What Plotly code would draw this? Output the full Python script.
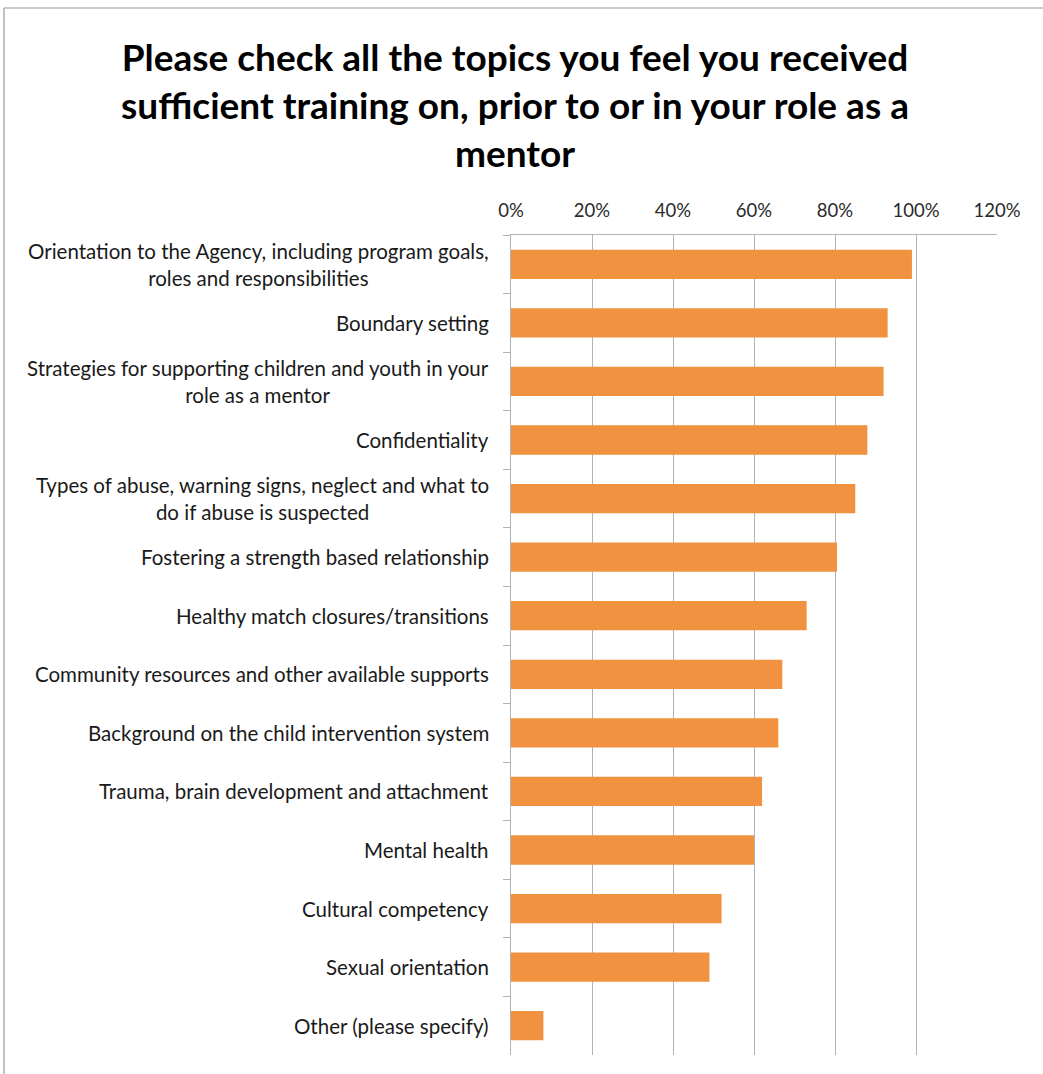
import plotly.graph_objects as go

categories = [
    "Orientation to the Agency, including program goals,<br>roles and responsibilities",
    "Boundary setting",
    "Strategies for supporting children and youth in your<br>role as a mentor",
    "Confidentiality",
    "Types of abuse, warning signs, neglect and what to<br>do if abuse is suspected",
    "Fostering a strength based relationship",
    "Healthy match closures/transitions",
    "Community resources and other available supports",
    "Background on the child intervention system",
    "Trauma, brain development and attachment",
    "Mental health",
    "Cultural competency",
    "Sexual orientation",
    "Other (please specify)",
]
values = [0.99, 0.93, 0.92, 0.88, 0.85, 0.805, 0.73, 0.67, 0.66, 0.62, 0.60, 0.52, 0.49, 0.08]
tick_vals = [0, 0.2, 0.4, 0.6, 0.8, 1.0, 1.2]
tick_text = ["0%", "20%", "40%", "60%", "80%", "100%", "120%"]
title_text = ("Please check all the topics you feel you received<br>"
              "sufficient training on, prior to or in your role as a<br>mentor")

FONT = "Lato, Open Sans, sans-serif"
W, H = 1043, 1074
L, R, T, B = 511, 46, 235, 19
PW, PH = W - L - R, H - T - B

px = lambda v: (v - L) / PW
py = lambda v: (H - B - v) / PH

fig = go.Figure(go.Bar(
    x=values, y=categories, orientation="h",
    marker=dict(color="#F09240", line=dict(width=0)),
    width=0.5,
))

annotations = []
for c in categories:
    annotations.append(dict(
        x=px(491), xref="paper", y=c, yref="y",
        text=c, showarrow=False, xanchor="right", yanchor="middle",
        align="center", font=dict(family=FONT, size=20.5, color="#1a1a1a"),
    ))
annotations.append(dict(
    x=px(515), xref="paper", y=py(104), yref="paper",
    text=title_text, showarrow=False, xanchor="center", yanchor="middle",
    align="center", font=dict(family=FONT, size=37, color="#000000", weight="bold"),
))

shapes = [
    dict(type="line", xref="paper", yref="paper", x0=px(4), x1=px(1050), y0=py(8), y1=py(8),
         line=dict(color="#9a9a9a", width=1.2)),
    dict(type="line", xref="paper", yref="paper", x0=px(4), x1=px(4), y0=py(8), y1=py(1080),
         line=dict(color="#9a9a9a", width=1.2)),
]

fig.update_layout(
    width=W, height=H,
    margin=dict(l=L, r=R, t=T, b=B),
    paper_bgcolor="white", plot_bgcolor="white",
    showlegend=False,
    xaxis=dict(
        side="top", range=[0, 1.2], tickvals=tick_vals, ticktext=tick_text,
        showgrid=True, gridcolor="#b3b3b3", gridwidth=1,
        showline=True, linecolor="#b3b3b3", linewidth=1,
        ticks="", zeroline=False, ticklabelstandoff=10,
        tickfont=dict(family=FONT, size=18.5, color="#2a2a2a"),
        fixedrange=True,
    ),
    yaxis=dict(
        autorange="reversed", showticklabels=False,
        showline=True, linecolor="#b3b3b3", linewidth=1,
        ticks="outside", ticklen=7, tickcolor="#b3b3b3", tickson="boundaries",
        showgrid=False,
    ),
    annotations=annotations,
    shapes=shapes,
)

fig.write_html("out.html")
